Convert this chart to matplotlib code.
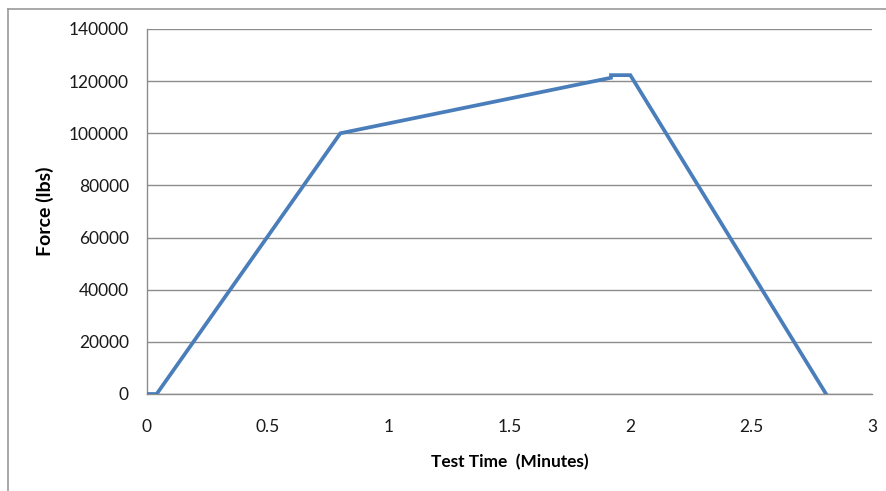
import matplotlib
matplotlib.use('Agg')
import matplotlib.pyplot as plt
from matplotlib.lines import Line2D

# test time (minutes) and force (lbs)
test_time = [0.0, 0.04, 0.80, 1.92, 1.92, 2.00, 2.81]
force = [0, 0, 100000, 121300, 122300, 122300, 0]

x_ticks = [0, 0.5, 1, 1.5, 2, 2.5, 3]
x_tick_labels = ['0', '0.5', '1', '1.5', '2', '2.5', '3']
y_ticks = [0, 20000, 40000, 60000, 80000, 100000, 120000, 140000]

plt.rcParams['font.family'] = ['Lato', 'DejaVu Sans']

fig = plt.figure(figsize=(8.87, 4.91), dpi=100)
ax = fig.add_axes([147 / 887, 97 / 491, 725 / 887, 365 / 491])

ax.plot(test_time, force, color='#4a7ebb', linewidth=2.7, solid_joinstyle='miter', zorder=3)

ax.set_xlim(0, 3)
ax.set_ylim(0, 140000)
ax.set_xticks(x_ticks)
ax.set_xticklabels(x_tick_labels)
ax.set_yticks(y_ticks)
ax.set_yticklabels([str(v) for v in y_ticks])

ax.grid(axis='y', color='#8c8c8c', linewidth=1.0)
ax.set_axisbelow(True)
for side in ['top', 'right']:
    ax.spines[side].set_visible(False)
for side in ['left', 'bottom']:
    ax.spines[side].set_color('#8c8c8c')
    ax.spines[side].set_linewidth(1.0)

ax.tick_params(axis='both', length=0, labelsize=12.5, colors='#1a1a1a')
ax.tick_params(axis='y', pad=13)
ax.tick_params(axis='x', pad=18)

ax.set_xlabel('Test Time  (Minutes)', fontsize=12.4, fontweight='bold', labelpad=14)
ax.set_ylabel('Force (lbs)', fontsize=14, fontweight='bold', labelpad=11)

# outer chart border (only top and left visible in the reference crop)
fig.add_artist(Line2D([8 / 887, 8 / 887], [0, 1 - 9 / 491], transform=fig.transFigure,
                      color='#9a9a9a', linewidth=1.2))
fig.add_artist(Line2D([8 / 887, 1], [1 - 9 / 491, 1 - 9 / 491], transform=fig.transFigure,
                      color='#9a9a9a', linewidth=1.2))

plt.savefig('out.png', dpi=100)
